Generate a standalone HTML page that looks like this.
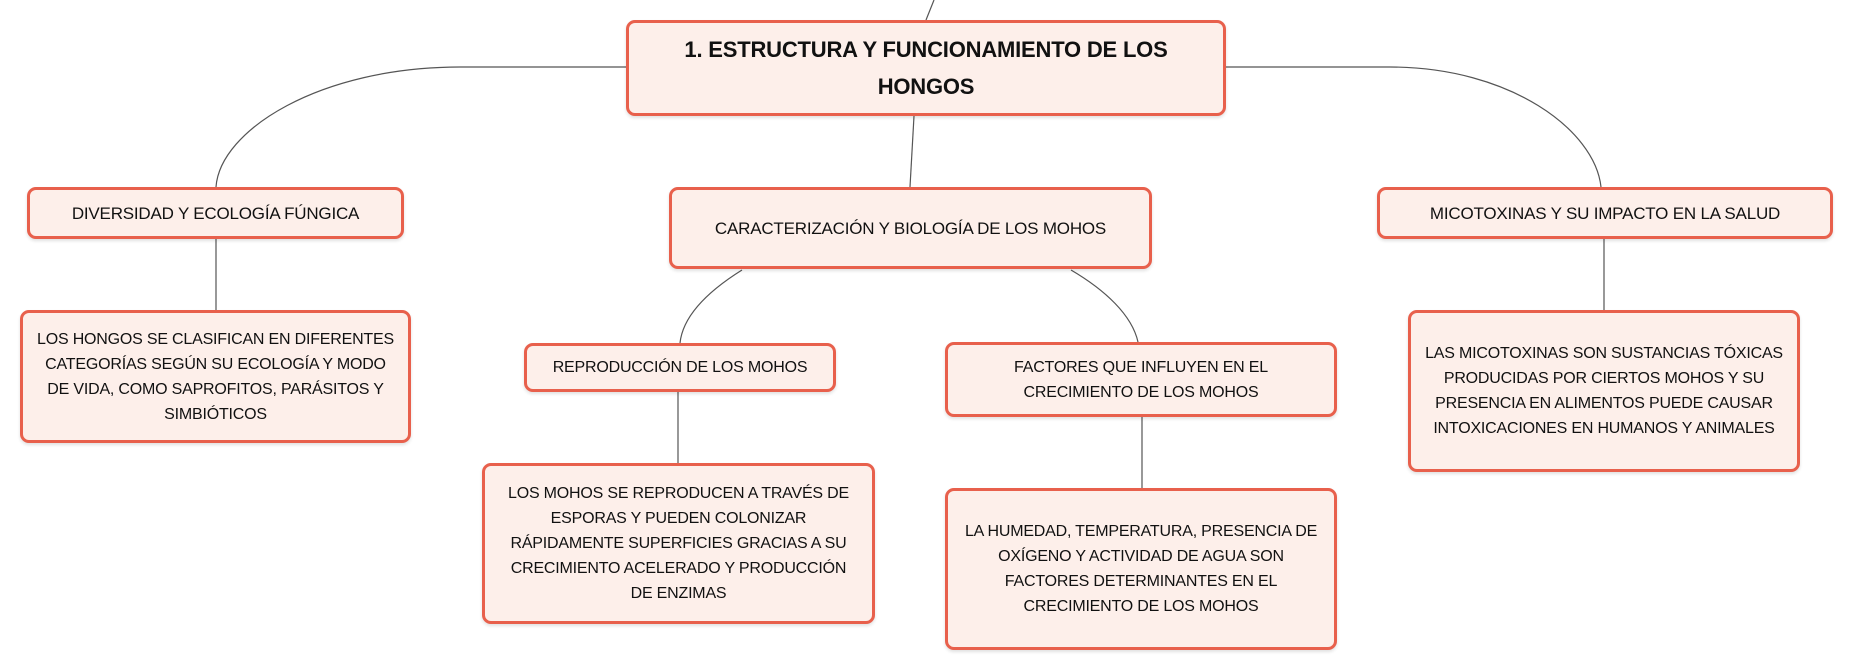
<!DOCTYPE html>
<html><head><meta charset="utf-8"><style>
body{margin:0;width:1853px;height:672px;background:#fff;position:relative;overflow:hidden;font-family:"Liberation Sans",sans-serif;color:#111;}
.b{position:absolute;box-sizing:border-box;border:3px solid #e8604c;border-radius:9px;background:#fdefea;display:flex;align-items:center;justify-content:center;text-align:center;font-size:16px;line-height:25px;box-shadow:0 2px 3px rgba(0,0,0,0.12);padding:0 2px;letter-spacing:-0.2px;white-space:nowrap}
svg{position:absolute;left:0;top:0}
</style></head><body>
<svg width="1853" height="672" fill="none" stroke="#555" stroke-width="1.2">
<path d="M934 0 L926 20"/>
<path d="M626 67 L460 67 C320 67 220 130 216 187"/>
<path d="M1226 67 L1390 67 C1510 67 1595 130 1601 187"/>
<path d="M914 116 L910 187"/>
<path d="M742 270 C710 290 683 315 680 343"/>
<path d="M1071 270 C1105 290 1132 315 1138 342"/>
<path d="M216 239 V310 M678 392 V463 M1142 417 V488 M1604 239 V310"/>
</svg>
<div class="b" style="left:626px;top:20px;width:600px;height:96px;font-weight:bold;font-size:22px;line-height:37px">1. ESTRUCTURA Y FUNCIONAMIENTO DE LOS<br>HONGOS</div>
<div class="b" style="left:27px;top:187px;width:377px;height:52px;font-size:17px">DIVERSIDAD Y ECOLOGÍA FÚNGICA</div>
<div class="b" style="left:669px;top:187px;width:483px;height:82px;font-size:17px">CARACTERIZACIÓN Y BIOLOGÍA DE LOS MOHOS</div>
<div class="b" style="left:1377px;top:187px;width:456px;height:52px;font-size:17px">MICOTOXINAS Y SU IMPACTO EN LA SALUD</div>
<div class="b" style="left:20px;top:310px;width:391px;height:133px">LOS HONGOS SE CLASIFICAN EN DIFERENTES<br>CATEGORÍAS SEGÚN SU ECOLOGÍA Y MODO<br>DE VIDA, COMO SAPROFITOS, PARÁSITOS Y<br>SIMBIÓTICOS</div>
<div class="b" style="left:524px;top:343px;width:312px;height:49px">REPRODUCCIÓN DE LOS MOHOS</div>
<div class="b" style="left:945px;top:342px;width:392px;height:75px">FACTORES QUE INFLUYEN EN EL<br>CRECIMIENTO DE LOS MOHOS</div>
<div class="b" style="left:482px;top:463px;width:393px;height:161px">LOS MOHOS SE REPRODUCEN A TRAVÉS DE<br>ESPORAS Y PUEDEN COLONIZAR<br>RÁPIDAMENTE SUPERFICIES GRACIAS A SU<br>CRECIMIENTO ACELERADO Y PRODUCCIÓN<br>DE ENZIMAS</div>
<div class="b" style="left:945px;top:488px;width:392px;height:162px">LA HUMEDAD, TEMPERATURA, PRESENCIA DE<br>OXÍGENO Y ACTIVIDAD DE AGUA SON<br>FACTORES DETERMINANTES EN EL<br>CRECIMIENTO DE LOS MOHOS</div>
<div class="b" style="left:1408px;top:310px;width:392px;height:162px">LAS MICOTOXINAS SON SUSTANCIAS TÓXICAS<br>PRODUCIDAS POR CIERTOS MOHOS Y SU<br>PRESENCIA EN ALIMENTOS PUEDE CAUSAR<br>INTOXICACIONES EN HUMANOS Y ANIMALES</div>
</body></html>
